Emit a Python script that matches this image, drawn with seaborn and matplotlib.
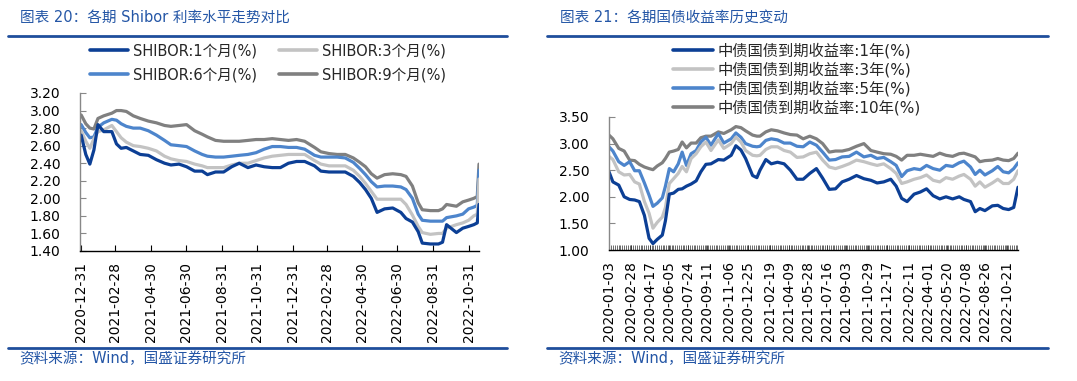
import matplotlib
matplotlib.use("Agg")
import pandas as pd
import matplotlib.pyplot as plt
from matplotlib.lines import Line2D
from matplotlib.ticker import FormatStrFormatter, MultipleLocator
import seaborn as sns

W, H = 1077, 381

# ---- left: SHIBOR rates ----
shibor_dates = [
    "2020-12-31", "2021-01-08", "2021-01-15", "2021-01-22", "2021-01-29", "2021-02-08", "2021-02-22", "2021-03-02", "2021-03-10", "2021-03-19",
    "2021-03-31", "2021-04-12", "2021-04-26", "2021-05-10", "2021-05-24", "2021-06-04", "2021-06-18", "2021-07-01", "2021-07-15", "2021-07-28",
    "2021-08-06", "2021-08-20", "2021-09-03", "2021-09-17", "2021-09-30", "2021-10-15", "2021-10-29", "2021-11-12", "2021-11-26", "2021-12-10",
    "2021-12-24", "2022-01-07", "2022-01-21", "2022-02-07", "2022-02-18", "2022-03-04", "2022-03-18", "2022-04-01", "2022-04-15", "2022-04-26",
    "2022-05-06", "2022-05-16", "2022-05-26", "2022-06-08", "2022-06-22", "2022-07-06", "2022-07-15", "2022-07-26", "2022-08-05", "2022-08-12",
    "2022-08-26", "2022-09-09", "2022-09-16", "2022-09-23", "2022-10-10", "2022-10-21", "2022-10-31", "2022-11-09", "2022-11-15", "2022-11-18",
]
shibor_1m = [
    2.72, 2.50, 2.39, 2.55, 2.84, 2.76, 2.76, 2.62, 2.57, 2.58,
    2.54, 2.50, 2.49, 2.44, 2.40, 2.38, 2.39, 2.36, 2.31, 2.31,
    2.27, 2.30, 2.30, 2.36, 2.40, 2.35, 2.38, 2.36, 2.35, 2.35,
    2.40, 2.42, 2.42, 2.37, 2.31, 2.30, 2.30, 2.30, 2.25, 2.18,
    2.10, 2.00, 1.84, 1.88, 1.89, 1.84, 1.77, 1.73, 1.62, 1.49,
    1.48, 1.48, 1.50, 1.70, 1.61, 1.66, 1.68, 1.70, 1.72, 1.93,
]
shibor_3m = [
    2.77, 2.65, 2.57, 2.68, 2.76, 2.78, 2.83, 2.76, 2.69, 2.64,
    2.60, 2.59, 2.57, 2.54, 2.48, 2.45, 2.43, 2.42, 2.39, 2.37,
    2.35, 2.35, 2.35, 2.38, 2.40, 2.40, 2.43, 2.46, 2.48, 2.49,
    2.50, 2.50, 2.50, 2.43, 2.39, 2.37, 2.37, 2.37, 2.32, 2.25,
    2.17, 2.08, 1.99, 1.99, 1.99, 1.99, 1.93, 1.81, 1.68, 1.61,
    1.59, 1.60, 1.60, 1.66, 1.70, 1.72, 1.75, 1.80, 1.82, 2.22,
]
shibor_6m = [
    2.84, 2.75, 2.69, 2.70, 2.81, 2.86, 2.90, 2.89, 2.85, 2.82,
    2.80, 2.80, 2.77, 2.72, 2.66, 2.61, 2.60, 2.59, 2.54, 2.50,
    2.48, 2.47, 2.47, 2.48, 2.49, 2.50, 2.52, 2.56, 2.59, 2.59,
    2.58, 2.58, 2.56, 2.49, 2.47, 2.47, 2.47, 2.46, 2.41, 2.34,
    2.27, 2.19, 2.13, 2.14, 2.14, 2.13, 2.10, 2.00, 1.82, 1.75,
    1.74, 1.74, 1.74, 1.78, 1.80, 1.82, 1.88, 1.90, 1.92, 2.32,
]
shibor_9m = [
    2.95, 2.85, 2.80, 2.79, 2.91, 2.94, 2.97, 3.00, 3.00, 2.99,
    2.94, 2.91, 2.88, 2.86, 2.83, 2.82, 2.83, 2.84, 2.77, 2.73,
    2.70, 2.66, 2.65, 2.65, 2.65, 2.66, 2.67, 2.67, 2.68, 2.67,
    2.66, 2.67, 2.65, 2.58, 2.53, 2.51, 2.50, 2.50, 2.46, 2.41,
    2.36, 2.28, 2.23, 2.27, 2.28, 2.27, 2.25, 2.14, 1.95, 1.87,
    1.86, 1.86, 1.88, 1.93, 1.91, 1.96, 1.98, 2.00, 2.02, 2.39,
]
shibor_labels = ["SHIBOR:1个月(%)", "SHIBOR:3个月(%)", "SHIBOR:6个月(%)", "SHIBOR:9个月(%)"]
shibor_ticks = ["2020-12-31", "2021-02-28", "2021-04-30", "2021-06-30", "2021-08-31", "2021-10-31",
                "2021-12-31", "2022-02-28", "2022-04-30", "2022-06-30", "2022-08-31", "2022-10-31"]

# ---- right: treasury yields ----
bond_dates = [
    "2020-01-02", "2020-01-12", "2020-01-27", "2020-02-10", "2020-02-24", "2020-03-08", "2020-03-20", "2020-04-02", "2020-04-14", "2020-04-24",
    "2020-05-05", "2020-05-18", "2020-05-26", "2020-06-05", "2020-06-16", "2020-06-28", "2020-07-08", "2020-07-19", "2020-07-31", "2020-08-13",
    "2020-08-25", "2020-09-07", "2020-09-20", "2020-10-09", "2020-10-23", "2020-11-11", "2020-11-23", "2020-12-06", "2020-12-18", "2021-01-05",
    "2021-01-16", "2021-01-24", "2021-02-08", "2021-02-22", "2021-03-10", "2021-03-27", "2021-04-12", "2021-04-29", "2021-05-15", "2021-06-01",
    "2021-06-18", "2021-07-04", "2021-07-21", "2021-08-06", "2021-08-23", "2021-09-10", "2021-09-29", "2021-10-18", "2021-11-05", "2021-11-21",
    "2021-12-08", "2021-12-26", "2022-01-09", "2022-01-23", "2022-02-06", "2022-02-24", "2022-03-12", "2022-03-28", "2022-04-14", "2022-05-01",
    "2022-05-17", "2022-06-03", "2022-06-20", "2022-07-02", "2022-07-19", "2022-07-31", "2022-08-12", "2022-08-25", "2022-09-13", "2022-09-27",
    "2022-10-11", "2022-10-25", "2022-11-07", "2022-11-18",
]
bond_1y = [
    2.47, 2.28, 2.22, 2.00, 1.95, 1.94, 1.91, 1.65, 1.22, 1.12,
    1.20, 1.28, 1.55, 2.05, 2.07, 2.14, 2.15, 2.20, 2.24, 2.30,
    2.47, 2.61, 2.62, 2.70, 2.69, 2.78, 2.96, 2.88, 2.72, 2.40,
    2.36, 2.50, 2.70, 2.62, 2.65, 2.62, 2.50, 2.33, 2.33, 2.44,
    2.53, 2.35, 2.14, 2.15, 2.28, 2.33, 2.40, 2.34, 2.31, 2.26,
    2.28, 2.33, 2.20, 1.97, 1.91, 2.05, 2.09, 2.15, 2.02, 1.96,
    2.00, 1.96, 2.00, 1.95, 1.91, 1.72, 1.78, 1.74, 1.83, 1.84,
    1.78, 1.76, 1.80, 2.18,
]
bond_3y = [
    2.76, 2.70, 2.47, 2.41, 2.42, 2.28, 2.24, 1.91, 1.69, 1.41,
    1.52, 1.62, 1.80, 2.25, 2.34, 2.44, 2.57, 2.47, 2.72, 2.81,
    2.94, 3.03, 2.87, 3.07, 2.91, 3.00, 3.12, 3.03, 2.87, 2.78,
    2.77, 2.78, 2.89, 2.94, 2.94, 2.87, 2.84, 2.74, 2.75, 2.81,
    2.84, 2.69, 2.56, 2.53, 2.57, 2.62, 2.69, 2.66, 2.62, 2.59,
    2.62, 2.53, 2.44, 2.25, 2.28, 2.33, 2.36, 2.41, 2.31, 2.28,
    2.36, 2.33, 2.39, 2.42, 2.33, 2.20, 2.28, 2.18, 2.26, 2.33,
    2.25, 2.25, 2.33, 2.49,
]
bond_5y = [
    2.94, 2.86, 2.66, 2.59, 2.66, 2.49, 2.49, 2.26, 2.03, 1.82,
    1.88, 1.98, 2.20, 2.53, 2.47, 2.62, 2.84, 2.59, 2.81, 2.87,
    3.03, 3.12, 2.97, 3.19, 3.01, 3.09, 3.20, 3.12, 3.00, 2.95,
    2.94, 2.95, 3.06, 3.09, 3.07, 3.01, 3.01, 2.95, 2.94, 3.03,
    2.97, 2.84, 2.69, 2.70, 2.75, 2.76, 2.84, 2.75, 2.78, 2.72,
    2.74, 2.66, 2.59, 2.38, 2.49, 2.53, 2.51, 2.59, 2.53, 2.50,
    2.59, 2.57, 2.64, 2.67, 2.56, 2.42, 2.50, 2.41, 2.49, 2.57,
    2.47, 2.45, 2.53, 2.64,
]
bond_10y = [
    3.16, 3.09, 2.91, 2.86, 2.69, 2.68, 2.61, 2.56, 2.53, 2.51,
    2.58, 2.64, 2.72, 2.84, 2.86, 2.89, 3.03, 2.92, 3.01, 3.01,
    3.11, 3.14, 3.14, 3.22, 3.19, 3.26, 3.32, 3.30, 3.24, 3.16,
    3.14, 3.14, 3.22, 3.26, 3.24, 3.20, 3.17, 3.16, 3.09, 3.14,
    3.09, 3.00, 2.84, 2.86, 2.86, 2.89, 2.95, 3.00, 2.87, 2.84,
    2.81, 2.80, 2.76, 2.69, 2.78, 2.78, 2.80, 2.78, 2.76, 2.82,
    2.78, 2.76, 2.81, 2.82, 2.78, 2.75, 2.66, 2.68, 2.69, 2.72,
    2.69, 2.68, 2.72, 2.82,
]
bond_labels = ["中债国债到期收益率:1年(%)", "中债国债到期收益率:3年(%)",
               "中债国债到期收益率:5年(%)", "中债国债到期收益率:10年(%)"]
bond_ticks = ["2020-01-03", "2020-02-28", "2020-04-17", "2020-06-05", "2020-07-24", "2020-09-11", "2020-11-06",
              "2020-12-25", "2021-02-19", "2021-04-09", "2021-05-28", "2021-07-16", "2021-09-03", "2021-10-29",
              "2021-12-17", "2022-02-11", "2022-04-01", "2022-05-20", "2022-07-08", "2022-08-26", "2022-10-21"]

line_colors = ["#0c3f95", "#c3c3c3", "#4d85cc", "#808080"]
brand_blue = "#1f4e9c"
text_blue = "#2456a6"

sns.set_theme(style="white")
plt.rcParams["font.family"] = ["DejaVu Sans", "Noto Sans CJK SC"]
plt.rcParams["axes.unicode_minus"] = False


def to_long(dates, series, labels):
    wide = pd.DataFrame(dict(zip(labels, series)))
    wide["date"] = pd.to_datetime(dates)
    return wide.melt(id_vars="date", var_name="series", value_name="value")


fig = plt.figure(figsize=(W / 100, H / 100), dpi=100)


def px_axes(x0, y0, x1, y1):
    return fig.add_axes([x0 / W, 1 - y1 / H, (x1 - x0) / W, (y1 - y0) / H])


def draw_panel(ax, df, labels, ticks, ylim, ystep, xlim):
    sns.lineplot(data=df, x="date", y="value", hue="series", hue_order=labels[::-1],
                 palette=dict(zip(labels, line_colors)), linewidth=2.3,
                 errorbar=None, legend=False, ax=ax)
    ax.set_xlim(pd.to_datetime(xlim[0]), pd.to_datetime(xlim[1]))
    ax.set_ylim(*ylim)
    ax.yaxis.set_major_locator(MultipleLocator(ystep))
    ax.yaxis.set_major_formatter(FormatStrFormatter("%.2f"))
    ax.set_xticks(pd.to_datetime(ticks))
    ax.set_xticklabels(ticks, rotation=90)
    ax.set_xlabel("")
    ax.set_ylabel("")
    ax.grid(False)
    for side in ["top", "right"]:
        ax.spines[side].set_visible(False)
    ax.spines["left"].set_color("#888888")
    ax.spines["bottom"].set_color("black")
    ax.spines["left"].set_linewidth(1.0)
    ax.spines["bottom"].set_linewidth(1.0)
    ax.tick_params(axis="y", direction="in", length=4, width=0.8, color="#888888",
                   labelcolor="black", labelsize=10, pad=14, left=True)
    ax.tick_params(axis="x", direction="in", length=4, width=0.8, color="black",
                   labelcolor="black", labelsize=10, pad=8, bottom=True)


def add_header_footer(x0, x1, title, title_x):
    fig.text(title_x / W, 1 - 17 / H, title, ha="left", va="center",
             fontsize=10.5, color=text_blue)
    for y in (36, 348):
        fig.add_artist(Line2D([x0 / W, x1 / W], [1 - y / H, 1 - y / H],
                              transform=fig.transFigure, color=brand_blue, lw=2))
    fig.text((x0 + 11) / W, 1 - 359 / H, "资料来源：Wind，国盛证券研究所",
             ha="left", va="center", fontsize=10.5, color=text_blue)


def legend_handles(labels):
    return [Line2D([], [], color=c, lw=2.6) for c in line_colors[:len(labels)]]


# left panel
ax1 = px_axes(80, 93, 479, 251)
draw_panel(ax1, to_long(shibor_dates, [shibor_1m, shibor_3m, shibor_6m, shibor_9m], shibor_labels),
           shibor_labels, shibor_ticks, (1.40, 3.20), 0.2, ("2020-12-29", "2022-11-18"))
add_header_footer(8, 507, "图表 20：各期 Shibor 利率水平走势对比", 20)
h1 = legend_handles(shibor_labels)
order = [0, 2, 1, 3]
fig.legend([h1[i] for i in order], [shibor_labels[i] for i in order],
           loc="upper left", bbox_to_anchor=(90 / W, 1 - 43.5 / H), ncol=2,
           frameon=False, fontsize=10.5, handlelength=2.6, handletextpad=0.35,
           columnspacing=1.5, labelspacing=0.6, borderpad=0, borderaxespad=0)

# right panel
ax2 = px_axes(609, 117, 1018, 250)
draw_panel(ax2, to_long(bond_dates, [bond_1y, bond_3y, bond_5y, bond_10y], bond_labels),
           bond_labels, bond_ticks, (1.00, 3.50), 0.5, ("2020-01-02", "2022-11-18"))
ax2.xaxis.set_minor_locator(MultipleLocator(4.7))
ax2.tick_params(axis="x", which="minor", direction="in", length=3.5, width=0.5,
                color="#333333", bottom=True)
ax2.tick_params(axis="x", which="major", length=3.5, width=0.5)
add_header_footer(547, 1048, "图表 21：各期国债收益率历史变动", 560)
fig.legend(legend_handles(bond_labels), bond_labels,
           loc="upper left", bbox_to_anchor=(673 / W, 1 - 43 / H), ncol=1,
           frameon=False, fontsize=11, handlelength=2.6, handletextpad=0.33,
           labelspacing=0.2, borderpad=0, borderaxespad=0)

fig.savefig("out.png", dpi=100)
